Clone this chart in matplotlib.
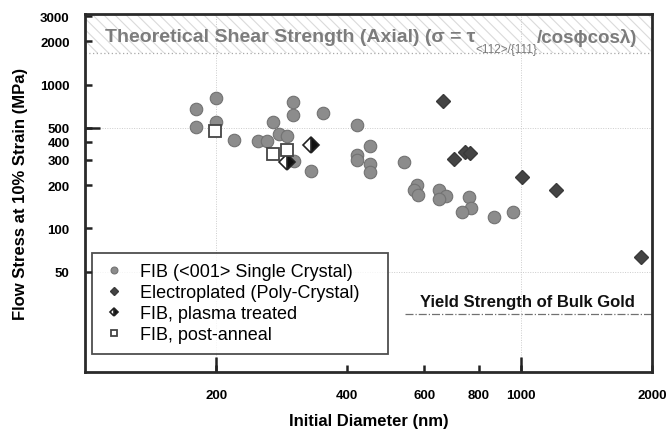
import numpy as np
import matplotlib
matplotlib.use('Agg')
import matplotlib.pyplot as plt
from matplotlib.ticker import FixedLocator, NullFormatter, FixedFormatter

plt.rcParams['font.family'] = ['Liberation Sans', 'DejaVu Sans']
plt.rcParams['hatch.color'] = '#dadada'
plt.rcParams['hatch.linewidth'] = 0.8

# FIB <001> single crystal (diameter nm, flow stress MPa)
fib_d = [180, 200, 180, 200, 220, 250, 261, 270, 279, 291, 300, 300, 302, 330, 352,
         421, 421, 421, 451, 451, 451, 540, 578, 570, 580, 649, 673, 649, 761, 769,
         733, 869, 960]
fib_s = [680, 811, 508, 551, 412, 406, 406, 551, 454, 440, 760, 617, 294, 251, 637,
         525, 323, 300, 374, 280, 248, 290, 200, 185, 170, 185, 168, 160, 165, 138,
         129, 119, 129]

# Electroplated poly-crystal
ep_d = [664, 703, 745, 765, 1007, 1206, 1887]
ep_s = [773, 304, 340, 335, 227, 185, 63]

# FIB, plasma treated
pl_d = [330, 291]
pl_s = [380, 290]

# FIB, post-anneal
an_d = [199, 270, 291]
an_s = [477, 329, 351]

theory_level = 1650
bulk_yield = 25.5

xticks = [200, 400, 600, 800, 1000, 2000]
yticks = [50, 100, 200, 300, 400, 500, 1000, 2000, 3000]

fig = plt.figure(figsize=(6.67, 4.31), dpi=100)
ax = fig.add_axes([0.1274, 0.1346, 0.8501, 0.8304])
ax.set_xscale('log')
ax.set_yscale('log')
ax.set_xlim(100, 2000)
ax.set_ylim(10, 3100)

# hatched band of theoretical strength
ax.fill_between([100, 2000], theory_level, 3100, facecolor='none', hatch='\\\\\\',
                edgecolor='#dadada', linewidth=0, zorder=0)
ax.axhline(theory_level, color='#a8a8a8', linestyle=(0, (1, 2)), linewidth=0.9, zorder=1)

# sparse grid lines
for xv in [200, 1000]:
    ax.axvline(xv, color='#cccccc', linestyle=(0, (1, 1.5)), linewidth=0.7, zorder=0)
for yv in [50, 500]:
    ax.axhline(yv, color='#cccccc', linestyle=(0, (1, 1.5)), linewidth=0.7, zorder=0)

# bulk yield strength
ax.plot([543, 2000], [bulk_yield, bulk_yield], color='#707070', linestyle='-.',
        linewidth=0.9, zorder=1)
ax.text(1035, 31, 'Yield Strength of Bulk Gold', ha='center', va='center',
        fontsize=12, fontweight='bold', color='#111111')

# title band text, built from three pieces
t1 = ax.text(0.035, 0.936, 'Theoretical Shear Strength (Axial) (σ = τ',
             transform=ax.transAxes, fontsize=14, fontweight='bold', color='#7c7c7c',
             ha='left', va='center')
t2 = ax.annotate('<112>/{111}', xy=(1, 0.5), xycoords=t1, xytext=(0, -9),
                 textcoords='offset points', fontsize=8.5, color='#7c7c7c',
                 ha='left', va='center')
t3 = ax.annotate('/cosϕcosλ)', xy=(1, 0.5), xycoords=(t2, t1), xytext=(0, 0),
                 textcoords='offset points', fontsize=13.5, fontweight='bold',
                 color='#7c7c7c', ha='left', va='center')

ax.plot(fib_d, fib_s, 'o', markersize=9, markerfacecolor='#8c8c8c',
        markeredgecolor='#727272', markeredgewidth=0.8, linestyle='none',
        label='FIB (<001> Single Crystal)', zorder=3)
ax.plot(ep_d, ep_s, 'D', markersize=7.5, markerfacecolor='#444444',
        markeredgecolor='#3a3a3a', linestyle='none',
        label='Electroplated (Poly-Crystal)', zorder=3)
ax.plot(pl_d, pl_s, 'D', markersize=8, markerfacecolor='#111111',
        markerfacecoloralt='white', fillstyle='right', markeredgecolor='#222222',
        markeredgewidth=1.2, linestyle='none', label='FIB, plasma treated', zorder=4)
ax.plot(an_d, an_s, 's', markersize=9, markerfacecolor='white',
        markeredgecolor='#444444', markeredgewidth=1.3, linestyle='none',
        label='FIB, post-anneal', zorder=4)

ax.xaxis.set_major_locator(FixedLocator(xticks))
ax.xaxis.set_major_formatter(FixedFormatter([str(v) for v in xticks]))
ax.yaxis.set_major_locator(FixedLocator(yticks))
ax.yaxis.set_major_formatter(FixedFormatter([str(v) for v in yticks]))
# longer unlabelled ticks where the grid lines are
ax.xaxis.remove_overlapping_locs = False
ax.yaxis.remove_overlapping_locs = False
ax.xaxis.set_minor_locator(FixedLocator([200, 1000]))
ax.yaxis.set_minor_locator(FixedLocator([500]))
ax.xaxis.set_minor_formatter(NullFormatter())
ax.yaxis.set_minor_formatter(NullFormatter())
ax.tick_params(axis='both', which='major', direction='in', length=5, width=1.8,
               labelsize=9.5, color='#222222')
ax.tick_params(axis='both', which='minor', direction='in', length=11, width=1.8,
               color='#222222')
ax.tick_params(axis='x', which='major', pad=12)
ax.tick_params(axis='y', which='major', pad=11)
for lab in ax.get_xticklabels() + ax.get_yticklabels():
    lab.set_fontweight('bold')

for sp in ax.spines.values():
    sp.set_linewidth(2)
    sp.set_color('#2a2a2a')

ax.set_xlabel('Initial Diameter (nm)', fontsize=12, fontweight='bold', labelpad=9)
ax.set_ylabel('Flow Stress at 10% Strain (MPa)', fontsize=12, fontweight='bold', labelpad=9)

leg = ax.legend(loc='lower left', bbox_to_anchor=(0.0123, 0.05, 0.522, 0.0),
                mode='expand', fontsize=13, markerscale=0.55, frameon=True,
                fancybox=False, borderpad=0.6, labelspacing=0.22, handlelength=1.2,
                handletextpad=0.85, borderaxespad=0)
leg.get_frame().set_edgecolor('#222222')
leg.get_frame().set_linewidth(1.3)

plt.savefig('out.png', dpi=100)
